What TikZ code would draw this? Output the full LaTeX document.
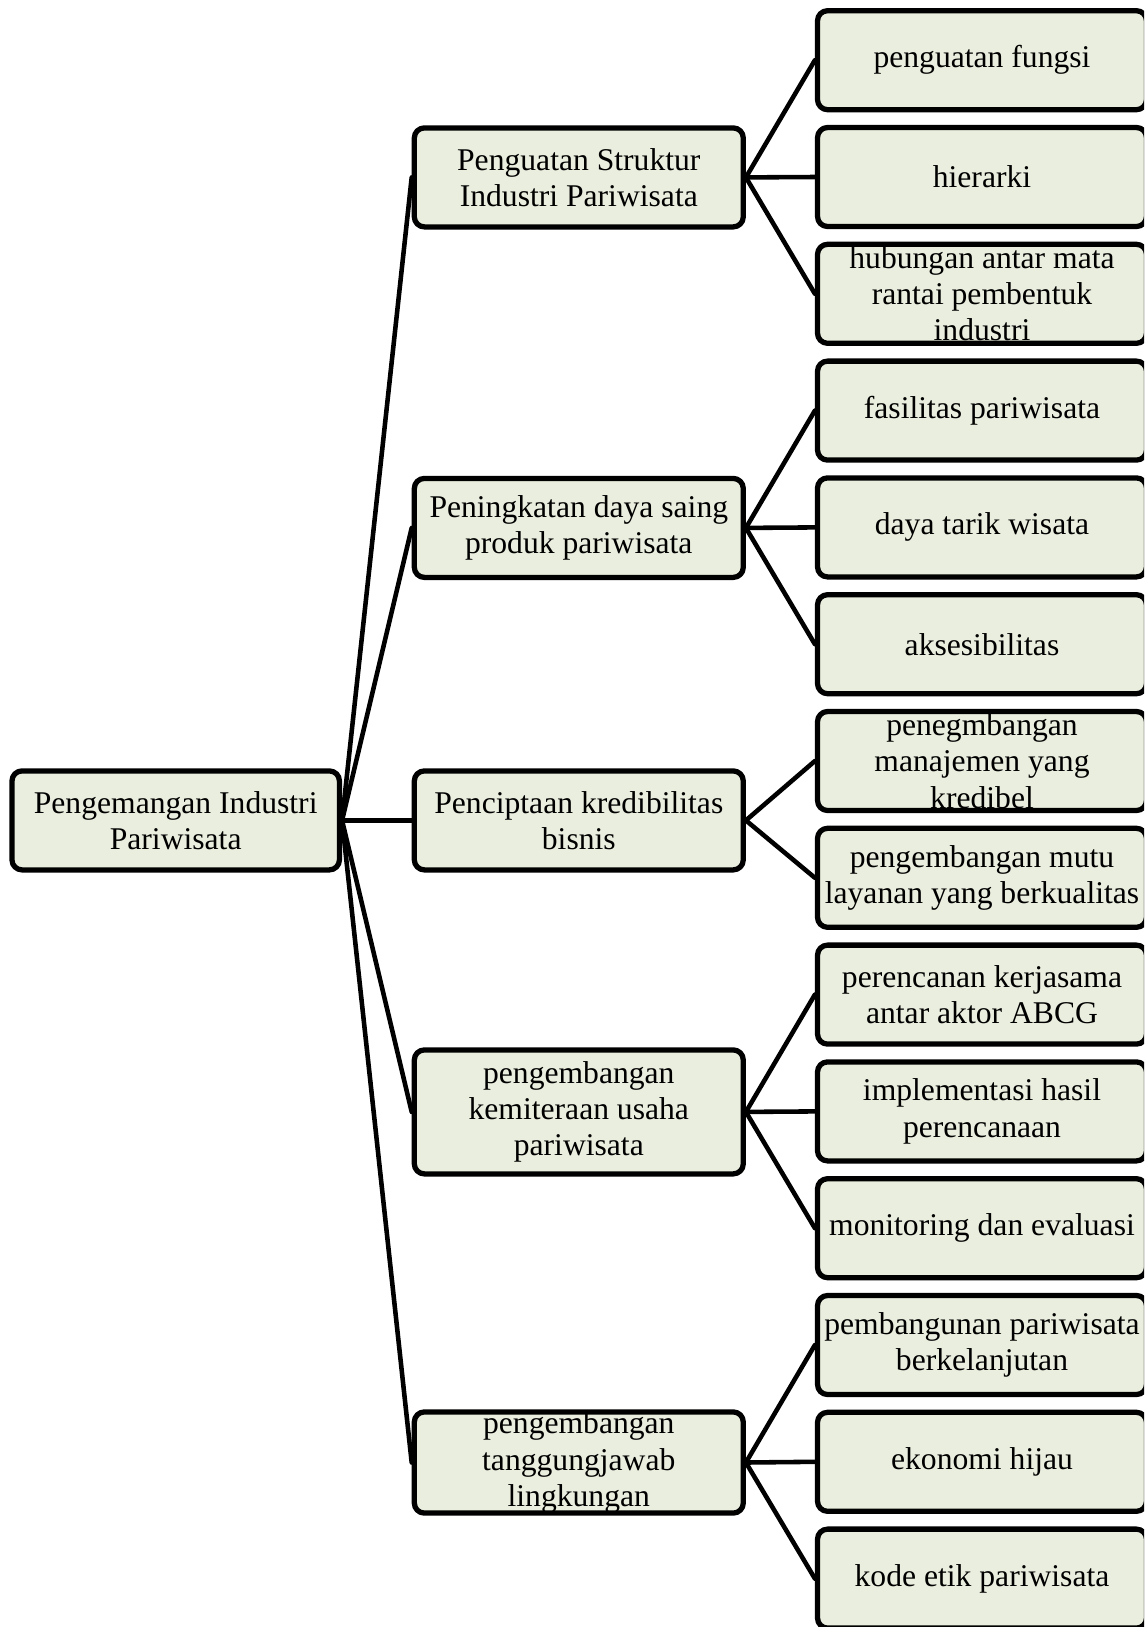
\documentclass[tikz,border=0pt]{standalone}
\usepackage{fontspec}
\setmainfont{Liberation Serif}
\usepackage{tikz}
\definecolor{boxfill}{RGB}{234,238,222}

\begin{document}
\begin{tikzpicture}[line cap=round,line join=round,x=0.02cm,y=-0.02cm,
  box/.style={draw=black,line width=3pt,rounded corners=0.2cm,fill=boxfill,
    minimum width=6.58cm,minimum height=1.98cm,align=center,inner sep=0pt,
    font=\fontsize{18}{20.6}\selectfont},
  link/.style={line width=2.6pt}]
\useasboundingbox (0,0) rectangle (1144,1627);
\clip (0,0) rectangle (1144,1627);
% root
\node[box,minimum width=6.55cm] (root) at (175.7,820.4) {Pengemangan Industri\\Pariwisata};
% second level
\node[box] (struktur) at (578.8,177.4) {Penguatan Struktur\\Industri Pariwisata};
\node[box] (dayasaing) at (578.8,527.9) {Peningkatan daya saing\\produk pariwisata};
\node[box] (kredibilitas) at (578.8,820.4) {Penciptaan kredibilitas\\bisnis};
\node[box,minimum height=2.48cm] (kemitraan) at (578.8,1111.9) {pengembangan\\kemiteraan usaha\\pariwisata};
\node[box] (lingkungan) at (578.8,1462.5) {pengembangan\\tanggungjawab\\lingkungan};
% leaves
\node[box] (fungsi) at (982,60.2) {penguatan fungsi};
\node[box] (hierarki) at (982,177.0) {hierarki};
\node[box] (rantai) at (982,293.8) {hubungan antar mata\\rantai pembentuk\\industri};
\node[box] (fasilitas) at (982,410.6) {fasilitas pariwisata};
\node[box] (daya) at (982,527.4) {daya tarik wisata};
\node[box] (akses) at (982,644.2) {aksesibilitas};
\node[box] (manajemen) at (982,761.0) {penegmbangan\\manajemen yang\\kredibel};
\node[box] (mutu) at (982,877.8) {pengembangan mutu\\layanan yang berkualitas};
\node[box] (kerjasama) at (982,994.6) {perencanan kerjasama\\antar aktor ABCG};
\node[box] (hasil) at (982,1111.4) {implementasi hasil\\perencanaan};
\node[box] (monev) at (982,1228.2) {monitoring dan evaluasi};
\node[box] (berlanjut) at (982,1345.0) {pembangunan pariwisata\\berkelanjutan};
\node[box] (hijau) at (982,1461.8) {ekonomi hijau};
\node[box] (etik) at (982,1578.6) {kode etik pariwisata};
% connectors
\draw[link] (root.east) -- (struktur.west);
\draw[link] (root.east) -- (dayasaing.west);
\draw[link] (root.east) -- (kredibilitas.west);
\draw[link] (root.east) -- (kemitraan.west);
\draw[link] (root.east) -- (lingkungan.west);
\draw[link] (struktur.east) -- (fungsi.west);
\draw[link] (struktur.east) -- (hierarki.west);
\draw[link] (struktur.east) -- (rantai.west);
\draw[link] (dayasaing.east) -- (fasilitas.west);
\draw[link] (dayasaing.east) -- (daya.west);
\draw[link] (dayasaing.east) -- (akses.west);
\draw[link] (kredibilitas.east) -- (manajemen.west);
\draw[link] (kredibilitas.east) -- (mutu.west);
\draw[link] (kemitraan.east) -- (kerjasama.west);
\draw[link] (kemitraan.east) -- (hasil.west);
\draw[link] (kemitraan.east) -- (monev.west);
\draw[link] (lingkungan.east) -- (berlanjut.west);
\draw[link] (lingkungan.east) -- (hijau.west);
\draw[link] (lingkungan.east) -- (etik.west);
\end{tikzpicture}
\end{document}
